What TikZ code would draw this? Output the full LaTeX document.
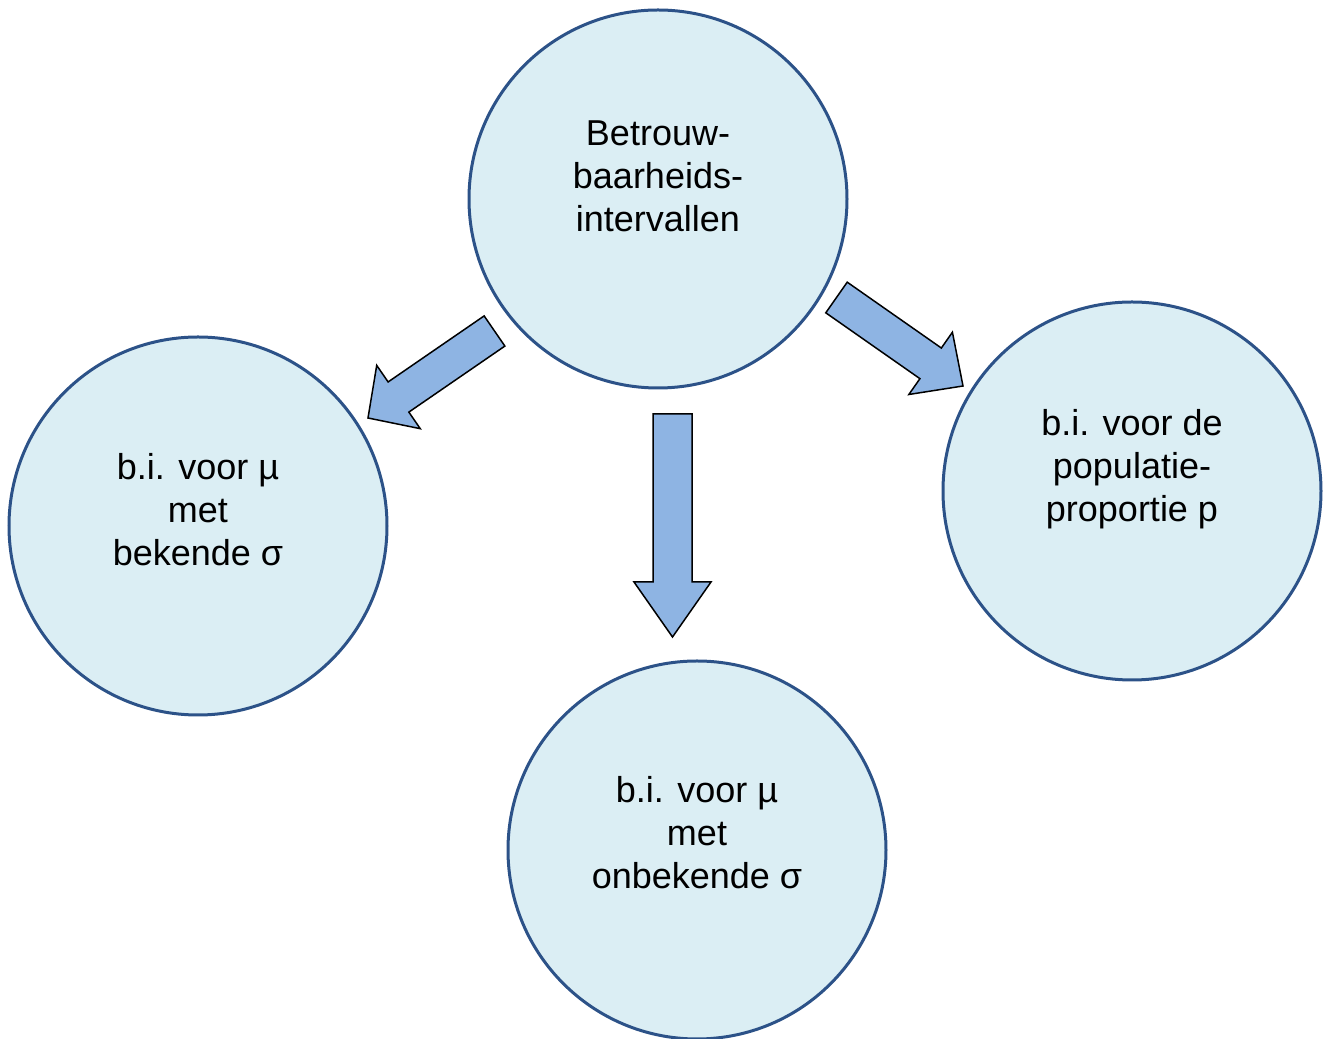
\documentclass[tikz,border=0pt]{standalone}
\usepackage{fontspec}
\setmainfont{Liberation Sans}
\usetikzlibrary{calc}
\definecolor{bubblefill}{HTML}{DBEEF4}
\definecolor{bubbleline}{HTML}{2C5288}
\definecolor{pushfill}{HTML}{8EB4E3}

% block arrow: tail, tip, half shaft, half head, head length
\newcommand{\blockarrow}[5]{%
  \coordinate (#1-neck) at ($(#2)!#5!(#1)$);
  \draw[push] ($(#1)!#3!90:(#2)$) -- ($(#1-neck)!#3!90:(#2)$)
    -- ($(#1-neck)!#4!90:(#2)$) -- (#2) -- ($(#1-neck)!#4!-90:(#2)$)
    -- ($(#1-neck)!#3!-90:(#2)$) -- ($(#1)!#3!-90:(#2)$) -- cycle;}

\begin{document}
\begin{tikzpicture}[
        x=0.5pt,y=0.5pt,
        bubble/.style={circle,draw=bubbleline,fill=bubblefill,line width=1.5pt,
          minimum size=189pt,inner sep=0pt},
        txt/.style={align=center,font=\fontsize{18}{21.5}\selectfont},
        push/.style={draw=black,fill=pushfill,line width=.75pt,line join=miter}
      ]
        \useasboundingbox (0,0) rectangle (1330,1039);
        \node[bubble] (top) at (658,840) {};
        \node[bubble] (known) at (198,513) {};
        \node[bubble] (unknown) at (697,189) {};
        \node[bubble] (prop) at (1132,548) {};
        \node[txt] (top-txt) at ([yshift=11.5pt]top.center) {Betrouw-\\baarheids-\\intervallen};
        \node[txt] (known-txt) at ([yshift=8pt]known.center) {b.i. voor µ\\met\\bekende σ};
        \node[txt] (unknown-txt) at ([yshift=8.5pt]unknown.center) {b.i. voor µ\\met\\onbekende σ};
        \node[txt] (prop-txt) at ([yshift=11pt]prop.center) {b.i. voor de\\populatie-\\proportie p};
        \coordinate (l-tail) at (494.5,708);
        \coordinate (l-tip) at (368,621);
        \coordinate (d-tail) at (672.5,625);
        \coordinate (d-tip) at (672.5,402);
        \coordinate (r-tail) at (836.5,741.5);
        \coordinate (r-tip) at (963,653);
        \blockarrow{l-tail}{l-tip}{9.15pt}{19.2pt}{18.5pt}
        \blockarrow{d-tail}{d-tip}{9.75pt}{19.25pt}{27.5pt}
        \blockarrow{r-tail}{r-tip}{9.35pt}{19pt}{19.75pt}
\end{tikzpicture}
\end{document}
